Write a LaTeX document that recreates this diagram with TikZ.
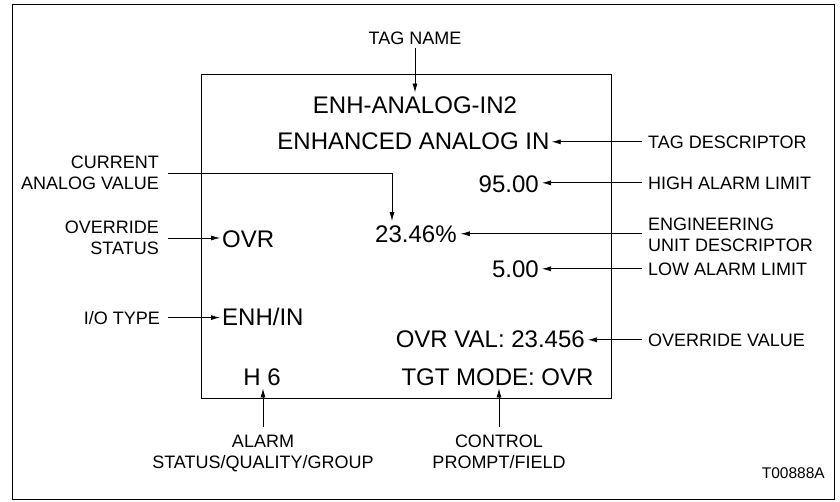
\documentclass[tikz,border=0pt]{standalone}
\usepackage{fontspec}
\setmainfont{Liberation Sans}
\usetikzlibrary{arrows.meta, positioning, calc}

\begin{document}
\begin{tikzpicture}[x=1pt, y=-1pt,
  screen/.style={inner sep=0pt, font=\fontsize{24}{28}\selectfont},
  callout/.style={inner sep=0pt, font=\fontsize{18}{21}\selectfont},
  arr/.style={-{Latex[length=9pt,width=5pt]}, line width=0.75pt}]
  \useasboundingbox (0,0) rectangle (840,501);
  \draw[line width=1pt] (12,4) rectangle (834,499);
  \draw[line width=0.9pt] (201,74) rectangle (611,398);

  % text on the display
  \node[screen, anchor=base] (tagtext) at (415,113) {ENH-ANALOG-IN2};
  \node[screen, anchor=base] (desctext) at (413.5,149) {ENHANCED ANALOG IN};
  \node[screen, anchor=base east] (hilim) at (539,192) {95.00};
  \node[screen, anchor=base west] (ovr) at (222,247) {OVR};
  \node[screen, anchor=base west] (pct) at (375,242) {23.46\%};
  \node[screen, anchor=base east] (lolim) at (539,277) {5.00};
  \node[screen, anchor=base west] (enhin) at (222,325) {ENH/IN};
  \node[screen, anchor=base east] (ovrval) at (585,347) {OVR VAL: 23.456};
  \node[screen, anchor=base] (hsix) at (262,385) {H 6};
  \node[screen, anchor=base] (tgt) at (497.5,385) {TGT MODE: OVR};

  % callouts
  \node[callout, anchor=base] (tagname) at (415,44) {TAG NAME};
  \node[callout, anchor=base west] (tagdesc) at (648,148) {TAG DESCRIPTOR};
  \node[callout, anchor=east, align=right] (curval) at (159,173) {CURRENT\\ANALOG VALUE};
  \node[callout, anchor=base west] (hilbl) at (648,189) {HIGH ALARM LIMIT};
  \node[callout, anchor=east, align=right] (ovrstat) at (159,238) {OVERRIDE\\STATUS};
  \node[callout, anchor=west, align=left] (engunit) at (648,234.5) {ENGINEERING\\UNIT DESCRIPTOR};
  \node[callout, anchor=base west] (lolbl) at (648,275) {LOW ALARM LIMIT};
  \node[callout, anchor=base east] (iotype) at (160,324) {I/O TYPE};
  \node[callout, anchor=base west] (ovrvallbl) at (648,346) {OVERRIDE VALUE};
  \node[callout, anchor=north, align=center] (alarm) at (263,435) {ALARM\\STATUS/QUALITY/GROUP};
  \node[callout, anchor=north, align=center] (ctrl) at (499,435) {CONTROL\\PROMPT/FIELD};
  \node[inner sep=0pt, font=\fontsize{15.5}{18}\selectfont, anchor=base east] (fignum) at (825,478) {T00888A};

  % arrows
  \draw[arr, shorten <=4pt, shorten >=3.5pt] (tagname.south) -- (tagname.south |- tagtext.north);
  \draw[arr, shorten <=6pt, shorten >=2pt] (tagdesc.west) -- (tagdesc.west -| desctext.east);
  \draw[arr, shorten <=9pt, shorten >=4pt] (curval.east) -| ([xshift=17pt]pct.north west);
  \draw[arr, shorten <=6pt, shorten >=3pt] (hilbl.west) -- (hilbl.west -| hilim.east);
  \draw[arr, shorten <=9pt, shorten >=2pt] (ovrstat.east) -- (ovrstat.east -| ovr.west);
  \draw[arr, shorten <=6pt, shorten >=4pt] (pct.east -| engunit.west) -- (pct.east);
  \draw[arr, shorten <=6pt, shorten >=3pt] (lolbl.west) -- (lolbl.west -| lolim.east);
  \draw[arr, shorten <=8pt, shorten >=2pt] (iotype.east) -- (iotype.east -| enhin.west);
  \draw[arr, shorten <=6pt, shorten >=3pt] (ovrvallbl.west) -- (ovrvallbl.west -| ovrval.east);
  \draw[arr, shorten <=8pt, shorten >=3pt] (alarm.north) -- (alarm.north |- hsix.south);
  \draw[arr, shorten <=8pt, shorten >=3pt] (ctrl.north) -- (ctrl.north |- tgt.south);
\end{tikzpicture}
\end{document}
